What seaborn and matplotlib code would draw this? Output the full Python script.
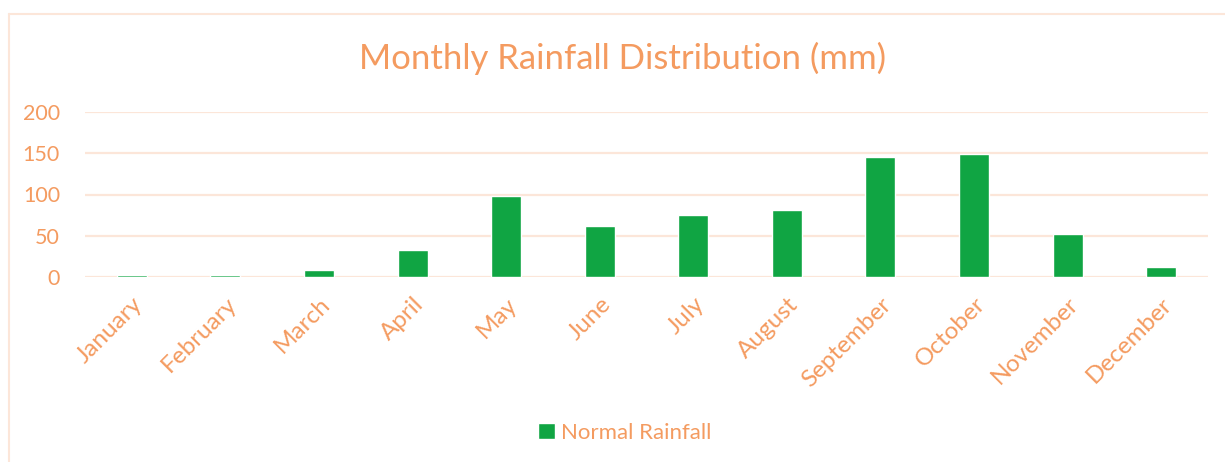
import matplotlib
matplotlib.use("Agg")
import matplotlib.pyplot as plt
from matplotlib.lines import Line2D
import seaborn as sns
import pandas as pd

months = ["January", "February", "March", "April", "May", "June", "July",
          "August", "September", "October", "November", "December"]
rainfall = [2.5, 2.5, 9, 33, 98, 61.5, 75.5, 81, 145, 149, 52, 12]
yticks = [0, 50, 100, 150, 200]
series_name = "Normal Rainfall"
title = "Monthly Rainfall Distribution (mm)"

TXT = "#F49B60"
GRID = "#FCE6D9"
GREEN = "#10A543"

sns.set_theme(style="white")
plt.rcParams["font.family"] = ["Lato", "DejaVu Sans"]

df = pd.DataFrame({"month": months, "rain": rainfall})

fig = plt.figure(figsize=(12.25, 4.62), dpi=100)
ax = fig.add_axes([85/1225, 1-277/462, (1208-85)/1225, 165/462])

sns.barplot(data=df, x="month", y="rain", color=GREEN, saturation=1,
            width=0.32, label=series_name, ax=ax, zorder=3)

ax.set_ylim(0, 200)
ax.set_yticks(yticks)
ax.set_xlim(-0.5, len(months) - 0.5)
ax.grid(axis="y", color=GRID, linewidth=1.6, zorder=0)
ax.set_axisbelow(True)
for s in ax.spines.values():
    s.set_visible(False)
ax.set_xlabel("")
ax.set_ylabel("")
ax.tick_params(axis="both", length=0, colors=TXT)
ax.tick_params(axis="y", pad=18, labelsize=15.5)
ax.set_yticklabels([str(v) for v in yticks], color=TXT)
ax.set_xticks(range(len(months)))
ax.set_xticklabels(months, rotation=45, ha="right", va="top",
                   rotation_mode="anchor", color=TXT, fontsize=17.5)
ax.tick_params(axis="x", pad=12)

fig.text(623/1225, 1-58/462, title, ha="center", va="center",
         color=TXT, fontsize=25)

leg = ax.legend(loc="center", bbox_to_anchor=(625/1225, 1-433/462),
                bbox_transform=fig.transFigure, frameon=False,
                handlelength=0.75, handleheight=0.75, handletextpad=0.3,
                fontsize=16)
for t in leg.get_texts():
    t.set_color(TXT)

fig.add_artist(Line2D([9/1225, 9/1225], [0, 1-14/462], transform=fig.transFigure,
                      color=GRID, linewidth=1.5))
fig.add_artist(Line2D([9/1225, 1], [1-14/462, 1-14/462], transform=fig.transFigure,
                      color=GRID, linewidth=1.5))

fig.savefig("out.png", dpi=100, facecolor="white")
